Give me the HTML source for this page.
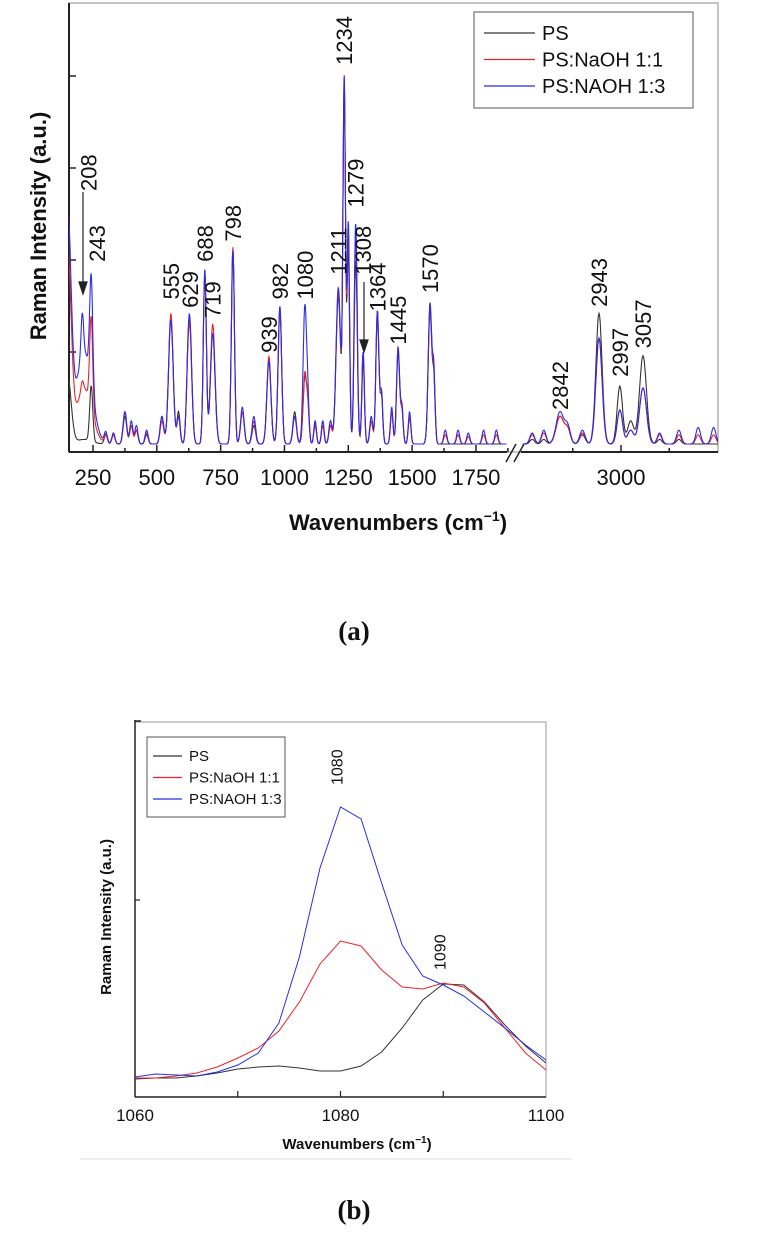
<!DOCTYPE html>
<html><head><meta charset="utf-8"><style>
body{margin:0;background:#fff;}
svg{display:block;font-family:"Liberation Sans",sans-serif;}
</style></head><body>
<svg id="fig" width="764" height="1235" viewBox="0 0 764 1235">
<defs>
<clipPath id="clipA"><rect x="69" y="3" width="649" height="449"/></clipPath>
<clipPath id="clipB"><rect x="135" y="722" width="411" height="375"/></clipPath>
</defs>
<g id="chartA"></g>
<g id="chartB"></g>
</svg>
<script>
// ---------- Chart A data ----------
const peakPos   = [150,215,208,243,300,330,375,400,420,460,520,555,585,620,629,688,719,798,835,880,939,982,1040,1080,1092,1120,1150,1180,1211,1234,1250,1279,1308,1340,1364,1380,1420,1445,1460,1490,1570,1585,1630,1680,1720,1780,1830,2770,2800,2842,2862,2900,2943,2997,3025,3057,3100,3150,3200,3240];
const peakWidth = [14,30,5,6,6,6,7,6,6,6,7,9,6,6,8,6,9,6,7,7,8,7,7,7,5,5,5,6,9,5,5,6,5,6,6,5,5,6,5,5,7,5,6,6,6,6,6,6,6,10,7,7,8,7,8,9,6,6,6,6];
const psHeights  = [0.75,0.05,0.0,0.6,0.1,0.1,0.3,0.2,0.15,0.1,0.3,1.35,0.35,0.3,1.25,1.85,1.2,2.1,0.35,0.2,0.9,1.45,0.35,0.72,0.35,0.25,0.25,0.2,1.6,3.85,2.1,2.0,0.9,0.25,1.4,0.5,0.35,1.0,0.35,0.3,1.45,0.65,0.0,0.0,0.0,0.0,0.0,0.05,0.05,0.3,0.15,0.1,1.42,0.63,0.25,0.96,0.05,0.05,0.0,0.0];
const r11Heights = [2.1,0.6,0.1,1.0,0.1,0.1,0.35,0.2,0.15,0.12,0.25,1.42,0.3,0.3,1.2,1.85,1.3,2.14,0.35,0.25,0.95,1.45,0.3,0.77,0.3,0.2,0.2,0.2,1.65,3.9,2.3,2.25,1.0,0.25,1.45,0.55,0.35,1.05,0.35,0.3,1.5,0.7,0.1,0.1,0.08,0.1,0.1,0.1,0.12,0.3,0.15,0.12,1.15,0.37,0.15,0.61,0.1,0.1,0.1,0.1];
const r13Heights = [2.5,1.0,0.45,1.2,0.12,0.12,0.35,0.25,0.2,0.15,0.3,1.35,0.3,0.3,1.3,1.9,1.2,2.1,0.4,0.3,0.9,1.5,0.3,1.5,0.35,0.25,0.25,0.25,1.7,3.95,2.4,2.4,1.0,0.3,1.45,0.55,0.4,1.05,0.4,0.35,1.53,0.75,0.15,0.15,0.12,0.15,0.15,0.12,0.15,0.35,0.18,0.15,1.15,0.37,0.15,0.61,0.12,0.15,0.18,0.18];
const peakLabels = ["208","243","555","629","688","719","798","939","982","1080","1211","1234","1279","1308","1364","1445","1570","2842","2943","2997","3057"];
const labelHeights = [2.75,1.98,1.57,1.48,1.98,1.37,2.2,0.99,1.57,1.57,1.84,4.12,2.57,1.84,1.44,1.08,1.64,0.37,1.49,0.73,1.04];
const xTickLabelsA = ["250","500","750","1000","1250","1500","1750","3000"];
const xTickValsA = [250,500,750,1000,1250,1500,1750,3000];
const yTickValsA = [1,2,3,4];

// ---------- Chart B data ----------
const bWave = [1060,1062,1064,1066,1068,1070,1072,1074,1076,1078,1080,1082,1084,1086,1088,1090,1092,1094,1096,1098,1100];
const bPS  = [1.8,1.9,1.9,2.1,2.4,2.8,3.0,3.1,2.9,2.6,2.6,3.1,4.5,6.9,9.7,11.3,11.2,9.5,7.2,5.1,3.4];
const bR11 = [1.9,1.9,2.1,2.4,3.0,3.9,4.9,6.6,9.5,13.3,15.6,15.1,12.7,11.0,10.8,11.4,11.0,9.4,6.9,4.4,2.7];
const bR13 = [2.0,2.3,2.2,2.1,2.5,3.2,4.4,7.4,14.0,22.9,29.0,27.8,21.4,15.2,12.1,11.2,10.1,8.5,6.9,5.2,3.7];
const bTickLabels = ["1060","1080","1100"];
const bTickVals = [1060,1080,1100];
const bLabels = ["1080","1090"];
const bLabelPos = [1080,1090];
const bLabelHeights = [31.2,12.7];

const NS="http://www.w3.org/2000/svg";
function mk(tag,attrs,parent,txt){const e=document.createElementNS(NS,tag);for(const k in attrs)e.setAttribute(k,attrs[k]);if(txt!==undefined)e.textContent=txt;parent.appendChild(e);return e;}

// ---------- Chart A ----------
const A=document.getElementById('chartA');
function xA(w){ if(w<=1900) return 93+(w-250)*0.2553; return 621+(w-3000)*0.386; }
function yA(v){ return 444-92*v; }
function spec(h,w){let s=0;for(let i=0;i<peakPos.length;i++){const d=(w-peakPos[i])/peakWidth[i];if(Math.abs(d)<6)s+=h[i]*Math.exp(-0.5*d*d);}return s;}
function specPath(h){let d="";for(const seg of [[150,1870],[2745,3255]]){let first=true;for(let w=seg[0];w<=seg[1];w+=1.5){d+=(first?"M":"L")+xA(w).toFixed(1)+","+yA(spec(h,w)).toFixed(1);first=false;}}return d;}
mk('rect',{x:69,y:3,width:649,height:449,fill:'none',stroke:'#888','stroke-width':1},A);
let axL=mk('line',{x1:69,y1:3,x2:69,y2:452,stroke:'#222','stroke-width':2},A);

let axB1=mk('line',{x1:69,y1:452,x2:507,y2:452,stroke:'#222','stroke-width':2},A);

let axB2=mk('line',{x1:521,y1:452,x2:718,y2:452,stroke:'#222','stroke-width':2},A);

let brk=mk('path',{d:'M506,462 L516,444 M514,462 L524,444',stroke:'#222','stroke-width':1.5,fill:'none'},A);

yTickValsA.forEach(v=>{let t=mk('line',{x1:69,y1:yA(v),x2:76,y2:yA(v),stroke:'#222','stroke-width':1.5},A);});
for(let w=250;w<=1875;w+=125){let t=mk('line',{x1:xA(w),y1:452,x2:xA(w),y2:(w%250===0?445:448),stroke:'#222','stroke-width':1.5},A);}
[2875,3000,3125].forEach(w=>{let t=mk('line',{x1:xA(w),y1:452,x2:xA(w),y2:(w===3000?445:448),stroke:'#222','stroke-width':1.5},A);});
xTickValsA.forEach((w,i)=>{let t=mk('text',{x:xA(w),y:485,'font-size':22,'text-anchor':'middle',fill:'#111'},A,xTickLabelsA[i]);});
const g=mk('g',{'clip-path':'url(#clipA)'},A);
[[psHeights,'#333','ps'],[r11Heights,'#e8242a','naoh-1-1'],[r13Heights,'#2b2be8','naoh-1-3']].forEach(s=>{let p=mk('path',{d:specPath(s[0]),fill:'none',stroke:s[1],'stroke-width':1.1},g);});
const labelWave=[208,243,555,629,688,719,798,939,982,1080,1211,1234,1279,1308,1364,1445,1570,2842,2943,2997,3057];
peakLabels.forEach((l,i)=>{const x=xA(labelWave[i])+(i<2?6:0);const y=yA(labelHeights[i]);let t=mk('text',{x:0,y:0,'font-size':22,fill:'#111',transform:`translate(${x+8},${y}) rotate(-90)`},A,l);});
let ar1=mk('path',{d:'M83,192 L83,292 M79,282 L83,294 L87,282 Z',stroke:'#222','stroke-width':1.2,fill:'#222'},A);
let ar2=mk('path',{d:'M364,282 L364,350 M360,340 L364,352 L368,340 Z',stroke:'#222','stroke-width':1.2,fill:'#222'},A);
let yt=mk('text',{x:0,y:0,'font-size':22,'font-weight':'bold','text-anchor':'middle',fill:'#111',transform:'translate(46,226) rotate(-90)'},A,'Raman Intensity (a.u.)');
let xt=mk('text',{x:398,y:530,'font-size':22,'font-weight':'bold','text-anchor':'middle',fill:'#111'},A);
xt.innerHTML='Wavenumbers (cm<tspan font-size="14" dy="-9">−1</tspan><tspan dy="9">)</tspan>';
const lg=mk('g',{},A);
mk('rect',{x:474,y:12,width:219,height:96,fill:'#fff',stroke:'#555','stroke-width':1},lg);
[['PS','#333'],['PS:NaOH 1:1','#e8242a'],['PS:NAOH 1:3','#2b2be8']].forEach((e,i)=>{const y=33+i*26.5;mk('line',{x1:484,y1:y,x2:535,y2:y,stroke:e[1],'stroke-width':1.2},lg);let t=mk('text',{x:542,y:y+7,'font-size':20,fill:'#111'},lg,e[0]);});
let pa=mk('text',{x:354,y:640,'font-size':27,'font-weight':'bold','text-anchor':'middle','font-family':'Liberation Serif, serif',fill:'#111'},A,'(a)');

// ---------- Chart B ----------
const B=document.getElementById('chartB');
function xB(w){return 135+(w-1060)*(411/40);}
function yB(v){return 1097-10*v;}
mk('rect',{x:135,y:722,width:411,height:375,fill:'none',stroke:'#999','stroke-width':1},B);
mk('line',{x1:80,y1:1159,x2:572,y2:1159,stroke:'#ddd','stroke-width':1},B);
let bl=mk('line',{x1:135,y1:720,x2:135,y2:1097,stroke:'#222','stroke-width':1.5},B);
mk('line',{x1:135,y1:721,x2:141,y2:721,stroke:'#222','stroke-width':1.5},B);
let bb=mk('line',{x1:135,y1:1097,x2:546,y2:1097,stroke:'#222','stroke-width':1.5},B);
let yt2=mk('line',{x1:135,y1:900,x2:140,y2:900,stroke:'#222','stroke-width':1.2},B);
[1070,1080,1090].forEach(w=>{let t=mk('line',{x1:xB(w),y1:1097,x2:xB(w),y2:1091,stroke:'#222','stroke-width':1.2},B);});
bTickVals.forEach((w,i)=>{let t=mk('text',{x:xB(w),y:1121,'font-size':17,'text-anchor':'middle',fill:'#111'},B,bTickLabels[i]);});
const gb=mk('g',{'clip-path':'url(#clipB)'},B);
[[bPS,'#333','ps'],[bR11,'#e8242a','naoh-1-1'],[bR13,'#2b2be8','naoh-1-3']].forEach(s=>{let d=s[0].map((v,i)=>(i?'L':'M')+xB(bWave[i]).toFixed(1)+','+yB(v).toFixed(1)).join('');let p=mk('path',{d:d,fill:'none',stroke:s[1],'stroke-width':1},gb);});
bLabels.forEach((l,i)=>{let t=mk('text',{x:0,y:0,'font-size':16,fill:'#111',transform:`translate(${xB(bLabelPos[i])+2},${yB(bLabelHeights[i])}) rotate(-90)`},B,l);});
let yt3=mk('text',{x:0,y:0,'font-size':15,'font-weight':'bold','text-anchor':'middle',fill:'#111',transform:'translate(111,917) rotate(-90)'},B,'Raman Intensity (a.u.)');
let xt3=mk('text',{x:357,y:1149,'font-size':15,'font-weight':'bold','text-anchor':'middle',fill:'#111'},B);
xt3.innerHTML='Wavenumbers (cm<tspan font-size="10" dy="-6">−1</tspan><tspan dy="6">)</tspan>';
const lb=mk('g',{},B);
mk('rect',{x:147,y:737,width:138,height:80,fill:'#fff',stroke:'#555','stroke-width':1},lb);
[['PS','#333'],['PS:NaOH 1:1','#e8242a'],['PS:NAOH 1:3','#2b2be8']].forEach((e,i)=>{const y=756+i*21.5;mk('line',{x1:153,y1:y,x2:182,y2:y,stroke:e[1],'stroke-width':1.3},lb);let t=mk('text',{x:189,y:y+5,'font-size':15,fill:'#111'},lb,e[0]);});
let pb=mk('text',{x:354,y:1219,'font-size':27,'font-weight':'bold','text-anchor':'middle','font-family':'Liberation Serif, serif',fill:'#111'},B,'(b)');
</script>
</body></html>
